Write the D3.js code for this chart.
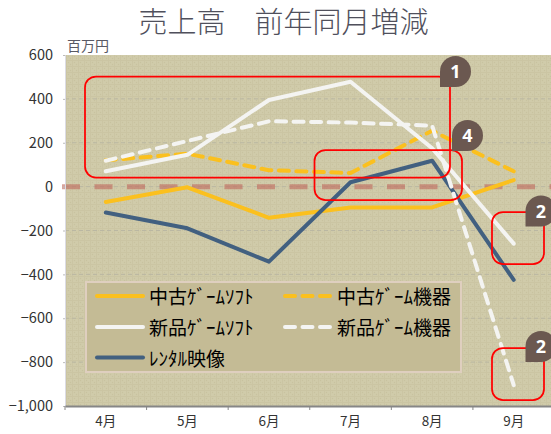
<!DOCTYPE html>
<html lang="ja">
<head>
<meta charset="UTF-8">
<title>売上高 前年同月増減</title>
<style>
	html, body { margin: 0; padding: 0; background: #fff; }
	svg { display: block; }
	text { font-family: "Noto Sans CJK JP", "Noto Sans", sans-serif; }
	.axis text { font-size: 14.5px; fill: #333; }
</style>
</head>
<body>
<svg id="chart" width="551" height="434"></svg>
<script src="https://cdn.jsdelivr.net/npm/d3@7"></script>
<script>
const months = ["4月", "5月", "6月", "7月", "8月", "9月"];
const usedSoft = [-70, -3, -142, -95, -95, 30];
const usedHard = [120, 150, 75, 62, 255, 70];
const newSoft = [70, 145, 395, 478, 175, -260];
const newHard = [118, 208, 298, 292, 278, -905];
const rental = [-118, -190, -342, 20, 118, -425];
const yTicks = [-1000, -800, -600, -400, -200, 0, 200, 400, 600];

let svg = d3.select("#chart");
let left = 65, right = 554.5, top_ = 55, bottom = 406;

let x = d3.scaleBand().domain(months).range([left, right]);
let y = d3.scaleLinear().domain([-1000, 600]).range([bottom, top_]);

// background texture
let defs = svg.append("defs");
let pat = defs.append("pattern").attr("id", "weave")
	.attr("width", 6).attr("height", 6).attr("patternUnits", "userSpaceOnUse");
pat.append("rect").attr("width", 6).attr("height", 6).attr("fill", "#d0cbaa");
pat.append("rect").attr("width", 6).attr("height", 1).attr("fill", "#cbc5a3");
pat.append("rect").attr("width", 1).attr("height", 6).attr("fill", "#cbc5a3");
pat.append("circle").attr("cx", 2.5).attr("cy", 2.5).attr("r", 0.7).attr("fill", "#c8c29f");
pat.append("circle").attr("cx", 4.5).attr("cy", 4.5).attr("r", 0.7).attr("fill", "#c8c29f");

svg.append("rect").attr("x", left).attr("y", top_).attr("width", 551 - left).attr("height", bottom - top_)
	.attr("fill", "url(#weave)");

// title
svg.append("text").attr("x", 283.5).attr("y", 33).attr("text-anchor", "middle")
	.attr("font-size", 29).attr("fill", "#50505c").attr("font-weight", 300).text("売上高　前年同月増減");
svg.append("text").attr("x", 67).attr("y", 51)
	.attr("font-size", 14).attr("fill", "#595964").text("百万円");

// grid
svg.append("g").selectAll("line").data(yTicks.filter(d => d > -1000 && d < 600)).join("line")
	.attr("x1", left).attr("x2", 551)
	.attr("y1", d => y(d)).attr("y2", d => y(d))
	.attr("stroke", "#bab7a2").attr("stroke-width", 1).attr("stroke-dasharray", "4 3");

// zero line
svg.append("line").attr("x1", 62).attr("x2", 551).attr("y1", y(0)).attr("y2", y(0))
	.attr("stroke", "#c0685c").attr("stroke-opacity", 0.6).attr("stroke-width", 5)
	.attr("stroke-dasharray", "18 14.5");

// axes
let yAxis = svg.append("g").attr("class", "axis").attr("transform", "translate(" + left + ",0)")
	.call(d3.axisLeft(y).tickValues(yTicks).tickSize(2).tickPadding(10)
		.tickFormat(d => d3.format(",")(d).replace("-", "−")));
yAxis.select(".domain").attr("stroke", "#dcdce4");
yAxis.selectAll(".tick line").attr("stroke", "#bbb");

let xAxis = svg.append("g").attr("class", "axis").attr("transform", "translate(0," + bottom + ")")
	.call(d3.axisBottom(x).tickSize(0).tickPadding(10));
xAxis.select(".domain").attr("stroke", "#868686").attr("stroke-width", 2);
xAxis.selectAll(".tick text").style("font-size", "13.5px");
xAxis.selectAll(".sep").data(d3.range(months.length + 1)).join("line")
	.attr("class", "sep")
	.attr("x1", i => left + i * x.step()).attr("x2", i => left + i * x.step())
	.attr("y1", 0).attr("y2", 4).attr("stroke", "#868686");

// series
let series = [
	{ name: "中古ｹﾞｰﾑｿﾌﾄ", values: usedSoft, color: "#fbc01e", dash: null },
	{ name: "中古ｹﾞｰﾑ機器", values: usedHard, color: "#fbc01e", dash: "10 7.5" },
	{ name: "新品ｹﾞｰﾑｿﾌﾄ", values: newSoft, color: "#f4f4f2", dash: null },
	{ name: "新品ｹﾞｰﾑ機器", values: newHard, color: "#f4f4f2", dash: "10 7.5" },
	{ name: "ﾚﾝﾀﾙ映像", values: rental, color: "#426080", dash: null }
];
let line = d3.line()
	.x((d, i) => x(months[i]) + x.bandwidth() / 2)
	.y(d => y(d));
let drawOrder = [series[0], series[1], series[4], series[2], series[3]];
svg.append("g").selectAll("path").data(drawOrder).join("path")
	.attr("d", d => line(d.values))
	.attr("fill", "none")
	.attr("stroke", d => d.color)
	.attr("stroke-width", 4)
	.attr("stroke-linecap", "round")
	.attr("stroke-linejoin", "round")
	.attr("stroke-dasharray", d => d.dash);

// legend
let legend = svg.append("g");
legend.append("rect").attr("x", 86).attr("y", 282).attr("width", 375).attr("height", 90)
	.attr("fill", "#c4bb95").attr("stroke", "#dfcfbf").attr("stroke-width", 2);
let legendPos = [[97, 296], [285, 296], [97, 327], [285, 327], [97, 357.5]];
let items = legend.selectAll("g").data(series).join("g")
	.attr("transform", (d, i) => "translate(" + legendPos[i] + ")");
items.append("line").attr("x1", 0).attr("x2", 46)
	.attr("stroke", d => d.color).attr("stroke-width", 4).attr("stroke-linecap", "round")
	.attr("stroke-dasharray", d => d.dash);
items.append("text").attr("x", 52).attr("y", 8).attr("font-size", 19).attr("fill", "#000").text(d => d.name);

// call-out boxes
let boxes = [
	{ x: 85, y: 76.5, w: 365, h: 101, no: "1", bx: 455.5, by: 71.5 },
	{ x: 314.5, y: 150, w: 147.5, h: 50, no: "4", bx: 467.5, by: 135.5 },
	{ x: 492, y: 212, w: 52, h: 52, no: "2", bx: 541, by: 211 },
	{ x: 492, y: 348, w: 52, h: 52, no: "2", bx: 541, by: 346.5 }
];
let notes = svg.append("g");
notes.selectAll("rect").data(boxes).join("rect")
	.attr("x", d => d.x).attr("y", d => d.y).attr("width", d => d.w).attr("height", d => d.h)
	.attr("rx", 11).attr("fill", "none").attr("stroke", "#f00").attr("stroke-width", 1.75);
let badges = notes.selectAll("g").data(boxes).join("g")
	.attr("transform", d => "translate(" + d.bx + "," + d.by + ")");
badges.append("path")
	.attr("d", "M-15.5,15.5 L-15.5,0 A15.5,15.5 0 1,1 0,15.5 Z")
	.attr("fill", "#6b5850");
badges.append("text").attr("text-anchor", "middle").attr("y", 6.5)
	.attr("font-weight", 700).attr("font-size", 18).attr("fill", "#fff")
	.style("font-family", "'Open Sans'").text(d => d.no);
</script>
</body>
</html>
